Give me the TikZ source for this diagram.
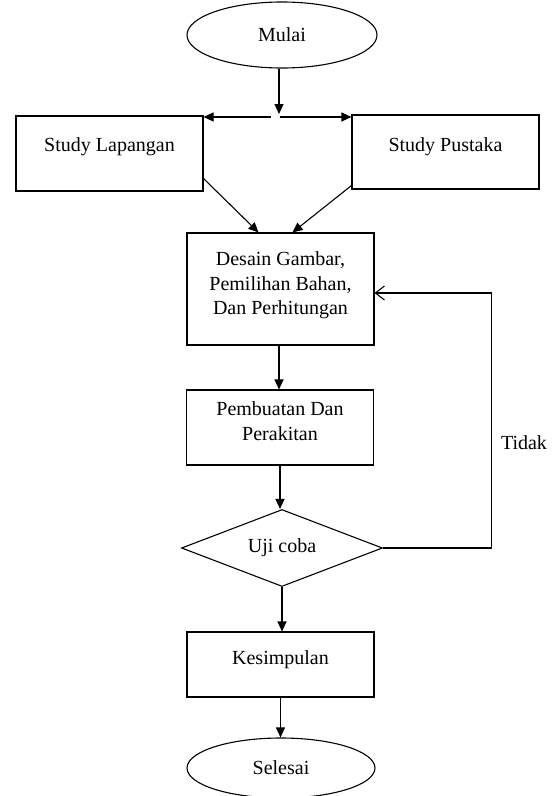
\documentclass[tikz,border=0pt]{standalone}
\usepackage{fontspec}
\setmainfont{Liberation Serif}
\usetikzlibrary{shapes.geometric}
\usetikzlibrary{arrows.meta}
\tikzstyle{base}=[font=\fontsize{20}{24.5}\selectfont, line width=1.1pt]
\tikzstyle{proc}=[base, draw, minimum width=187pt, align=center, inner sep=0pt]
\tikzstyle{term}=[base, draw, ellipse, inner sep=0pt]
\tikzstyle{cond}=[base, draw, diamond, aspect=2.6, minimum width=201pt, minimum height=77pt, inner sep=0pt]
\tikzstyle{flow}=[line width=1.1pt, -{Triangle[length=10pt,width=9pt]}]
\tikzstyle{back}=[line width=1.1pt, -{Straight Barb[length=9pt,width=14pt]}]

\begin{document}
\begin{tikzpicture}[x=1pt, y=-1pt]
        \useasboundingbox (0,0) rectangle (557,796);
        \node[term, minimum width=190pt, minimum height=66pt] (M) at (282,35) {Mulai};
        \node[proc, minimum height=75pt, text depth=17pt] (SL) at (109.5,153.5) {Study Lapangan};
        \node[proc, minimum height=74pt, text depth=14pt] (SP) at (445.5,152) {Study Pustaka};
        \node[proc, minimum height=112pt, text depth=11pt] (D) at (280.5,289) {Desain Gambar,\\Pemilihan Bahan,\\Dan Perhitungan};
        \node[proc, minimum height=75pt, text depth=13pt] (P) at (280,427.5) {Pembuatan Dan\\Perakitan};
        \node[cond] (U) at (282,548) {Uji coba};
        \node[proc, minimum height=65pt, text depth=13pt] (K) at (280.5,664.5) {Kesimpulan};
        \node[term, minimum width=188pt, minimum height=60pt] (S) at (281,768) {Selesai};
        \node[base] (T) at (524,443) {Tidak};
        \coordinate (J) at (279,117);
        \coordinate (JL) at (271,117);
        \coordinate (JR) at (280,117);
        \draw[flow] (M.south -| J) -- ([yshift=3pt]J);
        \draw[flow] (JL) -- (JL -| SL.east);
        \draw[flow] (JR) -- (JR -| SP.west);
        \draw[flow] ([yshift=13pt]SL.south east) -- ([xshift=-22pt]D.north);
        \draw[flow] ([yshift=4pt]SP.south west) -- ([xshift=12pt]D.north);
        \draw[flow] (D.south -| J) -- (P.north -| J);
        \draw[flow] (P.south) -- (U.north -| P.south);
        \draw[flow] (U.south) -- (K.north -| U.south);
        \draw[flow] (K.south) -- (S.north -| K.south);
        \draw[back] (U.east) -- ++(108,0) |- ([yshift=-4pt]D.east);
    \end{tikzpicture}
\end{document}
